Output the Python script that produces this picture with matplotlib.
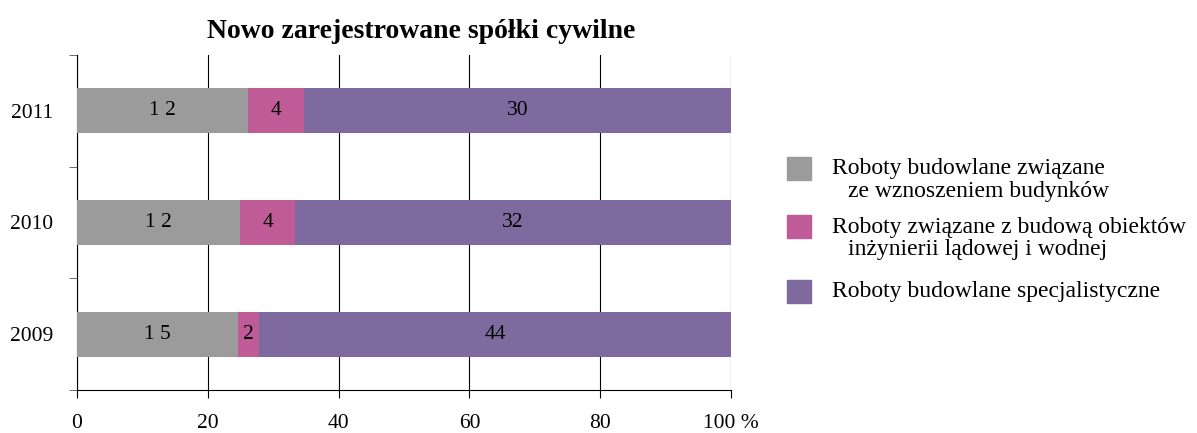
import matplotlib.pyplot as plt
from matplotlib.patches import Rectangle
import numpy as np

years = ['2009', '2010', '2011']
series = [
    ['Roboty budowlane związane', 'ze wznoszeniem budynków'],
    ['Roboty związane z budową obiektów', 'inżynierii lądowej i wodnej'],
    ['Roboty budowlane specjalistyczne'],
]
budynki = [15, 12, 12]
inzynieria = [2, 4, 4]
specjalistyczne = [44, 32, 30]
colors = ['#9b9b9b', '#bf5b97', '#7f6a9f']
xticks = [0, 20, 40, 60, 80, 100]
xticklabels = ['0', '20', '40', '60', '80', '100 %']

plt.rcParams['font.family'] = ['Liberation Serif', 'DejaVu Serif']

vals = np.array([budynki, inzynieria, specjalistyczne], dtype=float)
pct = vals / vals.sum(axis=0) * 100

W, H = 1197, 433
fig = plt.figure(figsize=(W / 100, H / 100), dpi=100)
ax = fig.add_axes([0.0643, 0.0993, 0.5464, 0.7737])

y = np.arange(len(years))
left = np.zeros(len(years))
for i in range(3):
    bars = ax.barh(y, pct[i], left=left, height=0.4, color=colors[i], zorder=3)
    if i == 0:
        labels = [' '.join(str(int(v))) for v in vals[i]]
    else:
        labels = [str(int(v)) for v in vals[i]]
    ax.bar_label(bars, labels=labels, label_type='center', fontsize=15.5,
                 color='black')
    left += pct[i]

ax.set_xlim(0, 100)
ax.set_ylim(-0.5, 2.5)
ax.set_xticks(xticks)
ax.set_xticklabels(xticklabels, fontsize=15.5)
ax.set_yticks(y)
ax.set_yticklabels(years, fontsize=15.5)
ax.set_yticks([-0.5, 0.5, 1.5, 2.5], minor=True)
ax.tick_params(axis='y', which='major', length=0, pad=17)
ax.tick_params(axis='y', which='minor', length=6, color='#555555')
ax.tick_params(axis='x', length=6, pad=11)
ax.grid(axis='x', color='black', linewidth=0.8, zorder=0)
for s in ['top', 'right']:
    ax.spines[s].set_visible(False)

ax.set_title('Nowo zarejestrowane spółki cywilne', fontsize=20,
             fontweight='bold', pad=12, x=0.527)

# legend drawn by hand: swatch sits beside the first line of each entry
first_line_y = [168, 227, 291]
for i, lines in enumerate(series):
    yc = first_line_y[i]
    fig.add_artist(Rectangle((787 / W, 1 - (yc + 11.5) / H), 24 / W, 23 / H,
                             transform=fig.transFigure, color=colors[i]))
    fig.text(832 / W, 1 - yc / H, lines[0], fontsize=17, va='center')
    if len(lines) > 1:
        fig.text(848 / W, 1 - (yc + 23) / H, lines[1], fontsize=17, va='center')

fig.savefig('out.png', dpi=100)
